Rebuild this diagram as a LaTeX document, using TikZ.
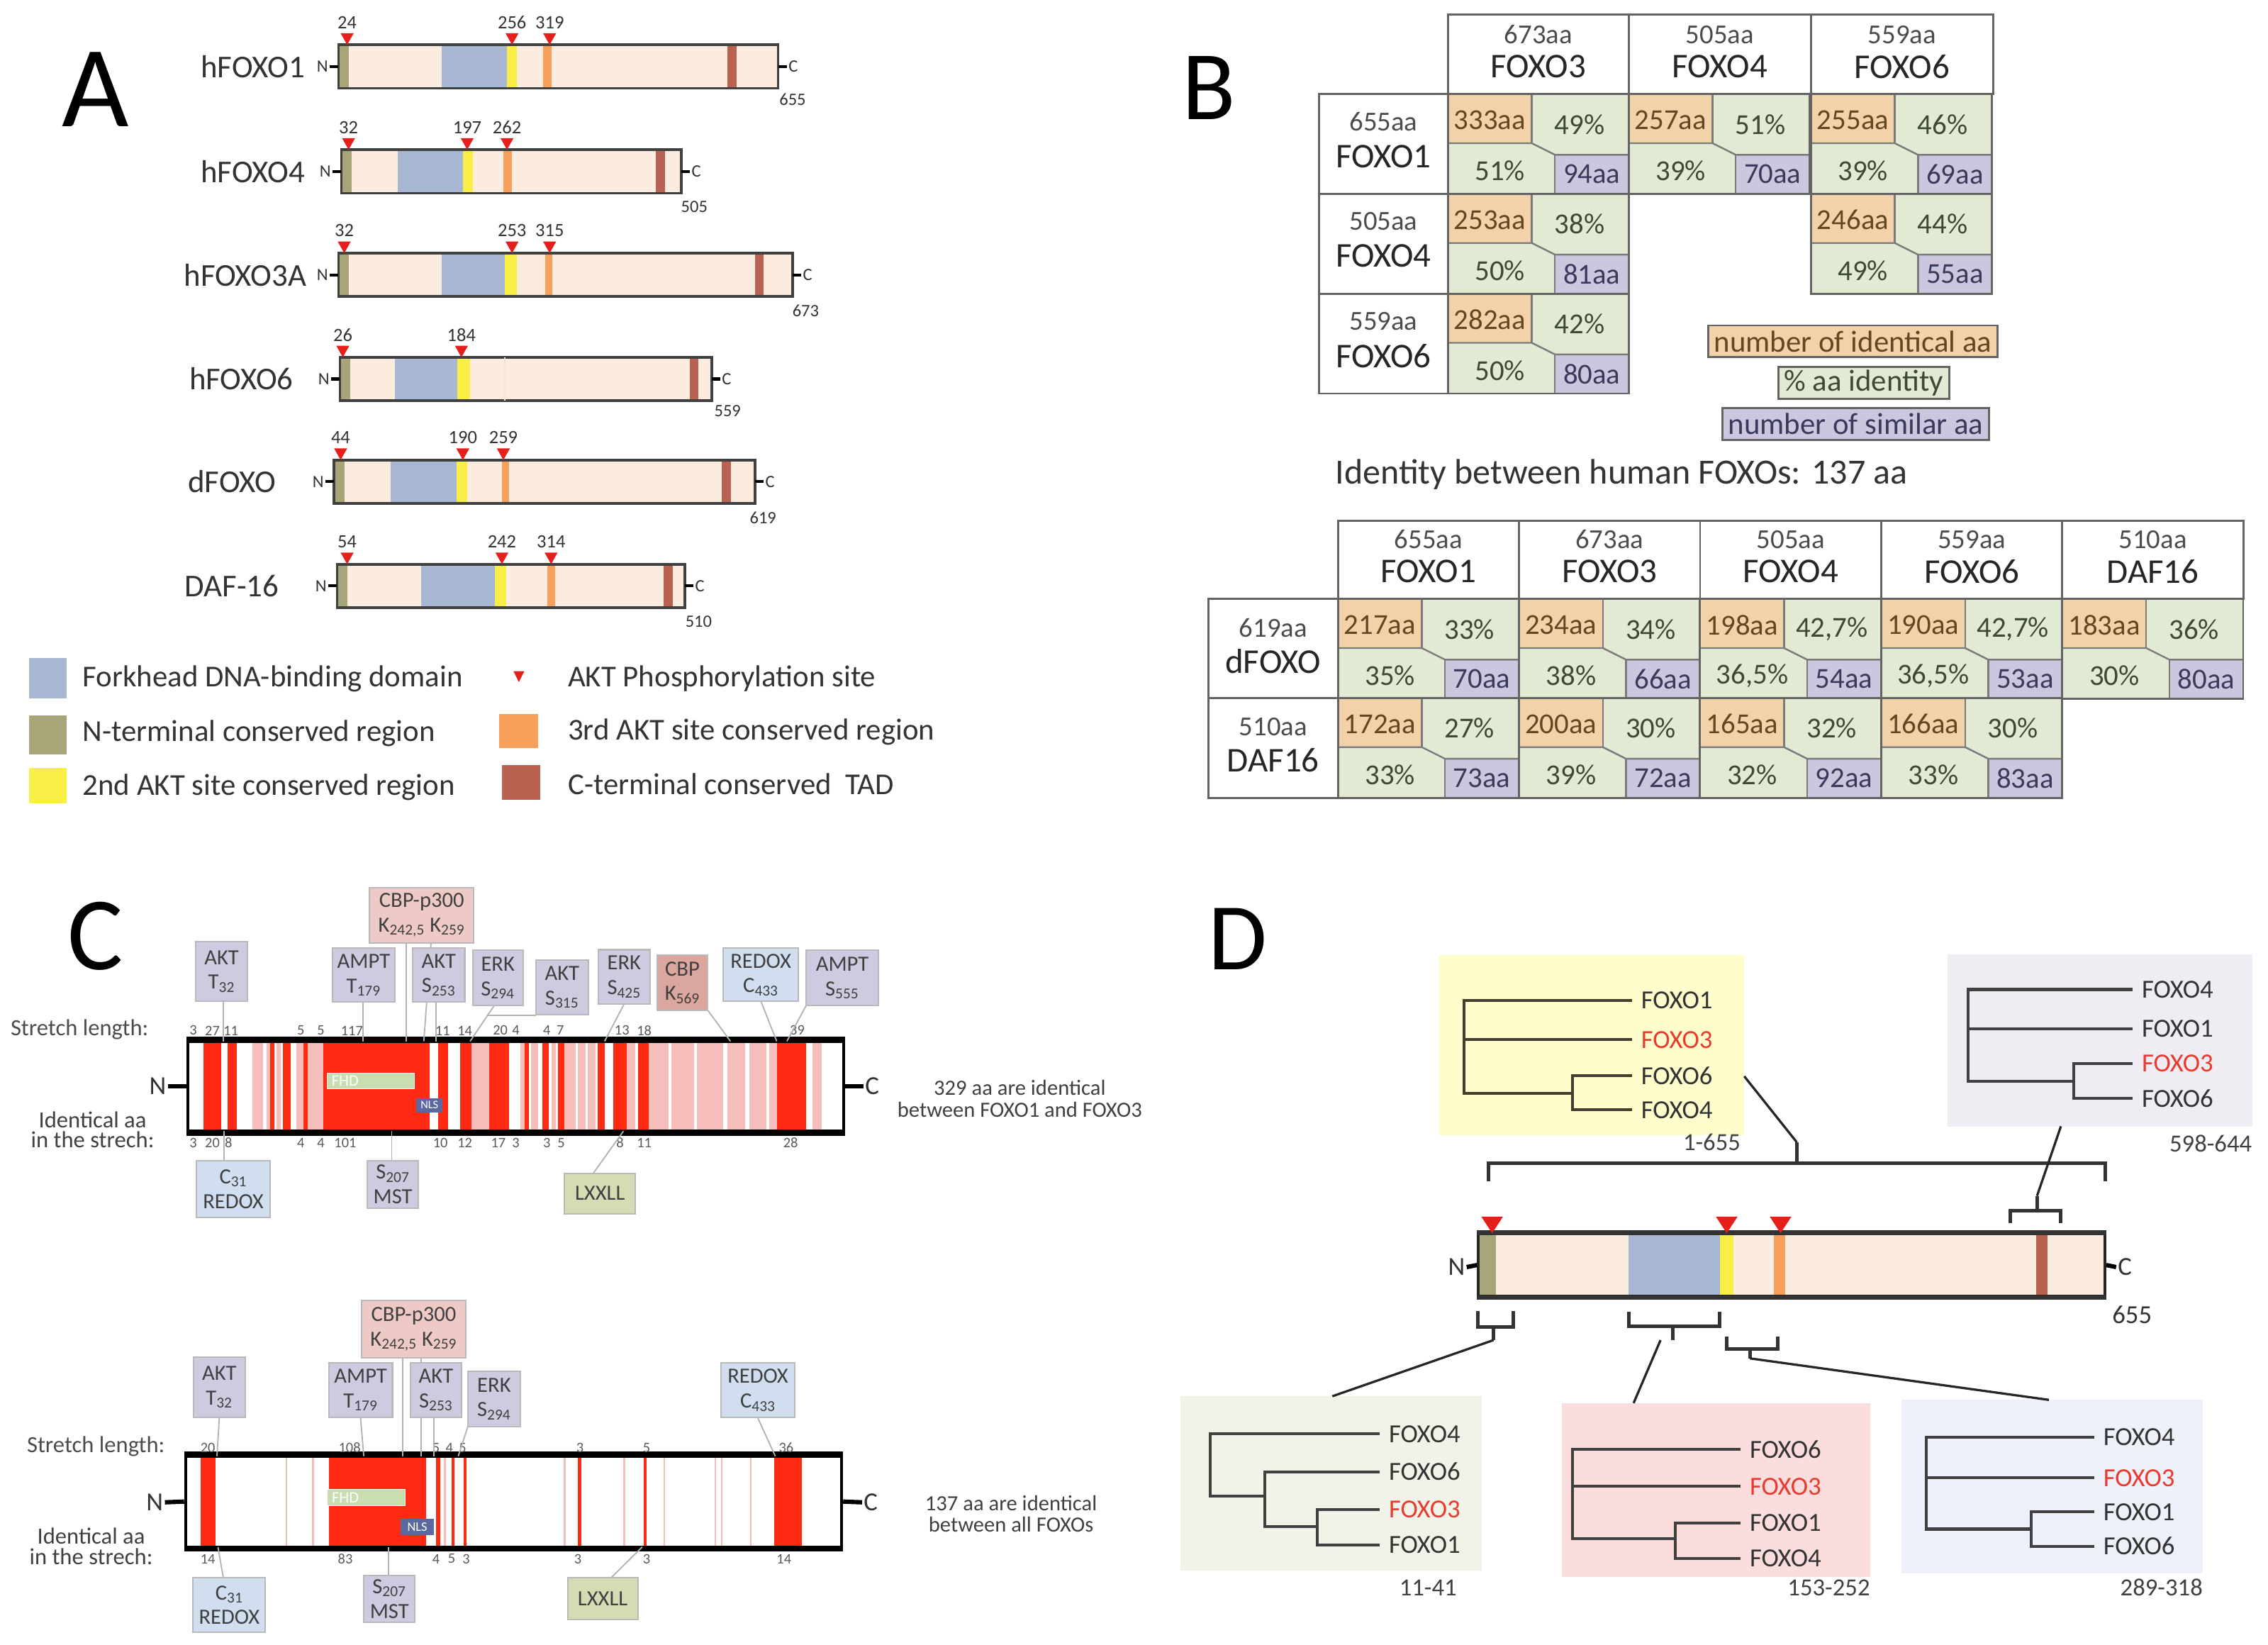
\documentclass[tikz,border=0pt]{standalone}
\usepackage{fontspec}
\setmainfont{Carlito}
\usetikzlibrary{positioning}

\newcommand{\fsz}[1]{\fontsize{#1}{#1}\selectfont}

\definecolor{barfill}{RGB}{252,236,224}
\definecolor{fhblue}{RGB}{168,184,212}
\definecolor{ntolive}{RGB}{168,166,120}
\definecolor{aktyel}{RGB}{248,238,70}
\definecolor{aktorg}{RGB}{247,160,92}
\definecolor{tadbrn}{RGB}{186,98,82}
\definecolor{sitered}{RGB}{230,30,28}
\definecolor{txt}{RGB}{51,51,51}
\definecolor{idorg}{RGB}{243,210,170}
\definecolor{idgrn}{RGB}{226,234,212}
\definecolor{idpur}{RGB}{204,199,222}
\definecolor{idorgt}{RGB}{100,70,35}
\definecolor{idgrnt}{RGB}{60,74,52}
\definecolor{idpurt}{RGB}{58,58,92}
\definecolor{gridgray}{RGB}{100,100,100}
\definecolor{consred}{RGB}{255,42,18}
\definecolor{conspink}{RGB}{245,190,186}
\definecolor{kinlav}{RGB}{206,203,224}
\definecolor{cbppink}{RGB}{238,202,198}
\definecolor{cbpdark}{RGB}{218,166,158}
\definecolor{redoxblue}{RGB}{208,222,240}
\definecolor{lxgreen}{RGB}{212,220,180}
\definecolor{fhdgreen}{RGB}{200,222,176}
\definecolor{nlsblue}{RGB}{92,104,160}
\definecolor{treeyel}{RGB}{255,253,204}
\definecolor{treepur}{RGB}{240,236,243}
\definecolor{treegrn}{RGB}{242,243,232}
\definecolor{treepnk}{RGB}{251,221,221}
\definecolor{treeblu}{RGB}{238,241,250}
\definecolor{foxred}{RGB}{232,60,48}

% one cell of the identity tables: x, y, identical, pct, pct, similar, name
\newcommand{\idcell}[7]{%
  \fill[idgrn] (#1,#2) rectangle ++(125,69);
  \fill[idorg] (#1,#2) rectangle ++(58,34);
  \fill[idpur] (#1+74,#2+42) rectangle ++(51,27);
  \draw[cellline] (#1,#2+34) -- ++(58,0) -- ++(16,8) -- ++(51,0);
  \draw[cellline] (#1+58,#2) -- ++(0,34);
  \draw[cellline] (#1+74,#2+42) -- ++(0,27);
  \draw[gridline] (#1,#2) rectangle ++(125,69);
  \node[idn, text=idorgt] (#7-i) at (#1+29,#2+18) {#3};
  \node[idn, text=idgrnt] (#7-p) at (#1+91,#2+21) {#4};
  \node[idn, text=idgrnt] (#7-q) at (#1+36,#2+53) {#5};
  \node[idn, text=idpurt] (#7-s) at (#1+99.5,#2+55.5) {#6};
}

\begin{document}
\begin{tikzpicture}[x=1pt, y=-1pt,
  panel/.style={font=\fsz{70}, text=black, inner sep=0},
  protname/.style={font=\fsz{22}, text=txt, inner sep=1, anchor=east},
  endlab/.style={font=\fsz{12}, text=txt, inner sep=1},
  sitenum/.style={font=\fsz{13}, text=txt, inner sep=0},
  legtxt/.style={font=\fsz{21}, text=txt, anchor=west, inner sep=0},
  barline/.style={draw=black!75, line width=1.8},
  gridline/.style={draw=gridgray, line width=1.4},
  cellline/.style={draw=gridgray!85, line width=1.2},
  idn/.style={font=\fsz{20}, inner sep=0},
  hlen/.style={font=\fsz{19}, text=black!70, inner sep=0},
  hnm/.style={font=\fsz{24}, text=black!85, inner sep=0},
  leg/.style={draw=gridgray, line width=1.4, font=\fsz{21}, inner xsep=4, inner ysep=0, minimum height=22},
  consbar/.style={draw=black, line width=2.2, inner sep=0},
  termlab/.style={font=\fsz{18}, text=txt, inner sep=1, anchor=east},
  strn/.style={font=\fsz{10}, text=black!65, inner sep=0},
  sitebox/.style={draw=gray!55, line width=1, fill=kinlav, align=center, inner sep=0,
    font={\fontsize{15}{17}\selectfont}, text=black!75},
  sz/.style 2 args={minimum width=#1, minimum height=#2},
  leadline/.style={draw=gray!60, line width=0.9},
  sidetxt/.style={align=center, inner sep=0, text=black!75},
  leaf/.style={font=\fsz{18}, text=black!80, anchor=west, inner xsep=6, inner ysep=1},
  leafred/.style={leaf, text=foxred},
  branch/.style={draw=black!75, line width=2},
  rng/.style={font=\fsz{17}, text=black!75, anchor=east, inner sep=0},
  brk/.style={draw=black!80, line width=2.4},
  zoomline/.style={draw=black!85, line width=1.6}]
\useasboundingbox (0,0) rectangle (1568,1137);

% ---------------- A: domain maps
\node[panel, font=\fsz{80}] (pA) at (66,62) {A};
\foreach \yy/\xa/\xb/\bla/\blb/\ylb/\ora/\orb/\taa/\tab in {
    46/234/538/305.5/350.5/357.5/375.5/381.5/503/509.5,
    118.5/236/471/275/320/327/348/354/453.5/460,
    190/234/548/305.5/349/357.5/377/382/522/528,
    262/235/492/273/316/325/349/349/477/483,
    333/231/522/270/315.7/323/347/352/499/505.5,
    405/233/473.5/291/342/350/378.5/384/459/465}{
  \fill[barfill] (\xa,\yy-15) rectangle (\xb,\yy+15);
  \fill[ntolive] (\xa,\yy-15) rectangle (\xa+7,\yy+15);
  \fill[fhblue] (\bla,\yy-15) rectangle (\blb,\yy+15);
  \fill[aktyel] (\blb,\yy-15) rectangle (\ylb,\yy+15);
  \fill[aktorg] (\ora,\yy-15) rectangle (\orb,\yy+15);
  \fill[tadbrn] (\taa,\yy-15) rectangle (\tab,\yy+15);
  \draw[barline] (\xa,\yy-15) rectangle (\xb,\yy+15);
}
\draw[aktorg!30, line width=1] (349,247) -- (349,277);
\foreach \p/\yy/\lx/\nm/\xa/\xb/\len/\lnx/\lny in {
    a1/46/212/hFOXO1/234/538/655/548/69,
    a2/118.5/212/hFOXO4/236/471/505/480/143,
    a3/190/213/hFOXO3A/234/548/673/557/215,
    a4/262/204/hFOXO6/235/492/559/503/284,
    a5/333/192/dFOXO/231/522/619/527.5/358,
    a6/405/194/DAF-16/233/473.5/510/483/429.5}{
  \node[protname] (\p) at (\lx,\yy) {\nm};
  \node[endlab, anchor=east] (\p-n) at (\xa-6,\yy) {N};
  \node[endlab, anchor=west] (\p-c) at (\xb+6,\yy) {C};
  \node[endlab] (\p-len) at (\lnx,\lny) {\len};
  \draw[line width=2] (\p-n.east) -- (\xa,\yy);
  \draw[line width=2] (\xb,\yy) -- (\p-c.west);
}
% AKT sites
\foreach \xs/\yt/\num [count=\k] in {240/31/24, 354/31/256, 380/31/319,
    241/103.5/32, 323/103.5/197, 350.5/103.5/262,
    238/175/32, 354/175/253, 380/175/315,
    237/247/26, 319/247/184,
    235.5/318/44, 320/318/190, 348/318/259,
    240/390/54, 347/390/242, 381/390/314}{
  \fill[sitered] (\xs-4.5,\yt-8) -- (\xs+4.5,\yt-8) -- (\xs,\yt) -- cycle;
  \node[sitenum] (st\k) at (\xs,\yt-15.5) {\num};
}
% legend
\fill[fhblue] (20,455) rectangle (46,483);
\fill[ntolive] (20,494.5) rectangle (46,521.5);
\fill[aktyel] (20,531) rectangle (46,555.5);
\fill[aktorg] (345,493.5) rectangle (372,517);
\fill[tadbrn] (347,529) rectangle (373.5,553);
\fill[sitered] (355,464) -- (362.5,464) -- (358.7,471.5) -- cycle;
\node[legtxt] (lg1) at (57,469) {Forkhead DNA-binding domain};
\node[legtxt] (lg2) at (57,507) {N-terminal conserved region};
\node[legtxt] (lg3) at (57,544) {2nd AKT site conserved region};
\node[legtxt] (lg4) at (392.5,469) {AKT Phosphorylation site};
\node[legtxt] (lg5) at (392.5,506) {3rd AKT site conserved region};
\node[legtxt] (lg6) at (392.5,542) {C-terminal conserved\ \ TAD};

% ---------------- B: identity tables
\node[panel, font=\fsz{68}] (pB) at (836,61) {B};
\draw[gridline] (1001,10) rectangle (1378,65);
\draw[gridline] (1126,10) -- (1126,65);
\draw[gridline] (1252,10) -- (1252,65);
\draw[gridline] (912,65) rectangle (1001,272);
\draw[gridline] (912,134) -- (1001,134);
\draw[gridline] (912,203) -- (1001,203);
\foreach \xc/\len/\nm [count=\k] in {1063.5/673aa/FOXO3, 1189/505aa/FOXO4, 1315/559aa/FOXO6}{
  \node[hlen] (bh\k) at (\xc,24) {\len};
  \node[hnm] (bn\k) at (\xc,46) {\nm};
}
\foreach \yr/\len/\nm [count=\k] in {65/655aa/FOXO1, 134/505aa/FOXO4, 203/559aa/FOXO6}{
  \node[hlen] (br\k) at (956.5,\yr+19) {\len};
  \node[hnm] (bm\k) at (956.5,\yr+43) {\nm};
}
\idcell{1001}{65}{333aa}{49\%}{51\%}{94aa}{b11}
\idcell{1126}{65}{257aa}{51\%}{39\%}{70aa}{b12}
\idcell{1252}{65}{255aa}{46\%}{39\%}{69aa}{b13}
\idcell{1001}{134}{253aa}{38\%}{50\%}{81aa}{b21}
\idcell{1252}{134}{246aa}{44\%}{49\%}{55aa}{b23}
\idcell{1001}{203}{282aa}{42\%}{50\%}{80aa}{b31}
\node[leg, fill=idorg, text=idorgt] (lgi) at (1281,236) {number of identical aa};
\node[leg, fill=idgrn, text=idgrnt] (lgp) at (1288.5,264.5) {\% aa identity};
\node[leg, fill=idpur, text=idpurt] (lgs) at (1283,293) {number of similar aa};

\node[font=\fsz{24.5}, text=txt, inner sep=0] (btitle) at (1121,328) {Identity between human FOXOs: 137 aa};
\draw[gridline] (925,360) rectangle (1551,414);
\foreach \xs in {1050.2,1175.4,1300.6,1425.8} \draw[gridline] (\xs,360) -- (\xs,414);
\draw[gridline] (835.4,414) rectangle (925,551.5);
\draw[gridline] (835.4,482.5) -- (925,482.5);
\foreach \xc/\len/\nm [count=\k] in {987.6/655aa/FOXO1, 1112.8/673aa/FOXO3, 1238/505aa/FOXO4,
    1363.2/559aa/FOXO6, 1488.4/510aa/DAF16}{
  \node[hlen] (dh\k) at (\xc,373) {\len};
  \node[hnm] (dn\k) at (\xc,395) {\nm};
}
\foreach \yr/\len/\nm [count=\k] in {414/619aa/dFOXO, 482.5/510aa/DAF16}{
  \node[hlen] (dr\k) at (880.2,\yr+20) {\len};
  \node[hnm] (dm\k) at (880.2,\yr+43) {\nm};
}
\idcell{925}{414}{217aa}{33\%}{35\%}{70aa}{e11}
\idcell{1050.2}{414}{234aa}{34\%}{38\%}{66aa}{e12}
\idcell{1175.4}{414}{198aa}{42,7\%}{36,5\%}{54aa}{e13}
\idcell{1300.6}{414}{190aa}{42,7\%}{36,5\%}{53aa}{e14}
\idcell{1425.8}{414}{183aa}{36\%}{30\%}{80aa}{e15}
\idcell{925}{482.5}{172aa}{27\%}{33\%}{73aa}{e21}
\idcell{1050.2}{482.5}{200aa}{30\%}{39\%}{72aa}{e22}
\idcell{1175.4}{482.5}{165aa}{32\%}{32\%}{92aa}{e23}
\idcell{1300.6}{482.5}{166aa}{30\%}{33\%}{83aa}{e24}

% ---------------- C: conserved stretches, FOXO1 vs FOXO3
\node[panel, font=\fsz{72}] (pC) at (66,647) {C};
\foreach \a/\b in {174.3/182, 184.4/186.6, 191.2/194.2, 205/209.6, 212.6/223.3, 326/338.2,
    359.7/362.7, 367.3/372, 381.1/384.2, 390.3/398, 399.5/405, 406.5/411.8, 433.2/439.3,
    448.5/462, 464/480, 482/500, 503/515, 518/530, 532/537.4, 561.9/568}
  \fill[conspink] (\a,719.8) rectangle (\b,781.9);
\foreach \a/\b in {140.6/152.9, 157.5/163.6, 186.6/189.6, 195.8/201, 209.6/212.6, 223.3/296.9,
    303/310, 318.3/326, 338.2/352, 362.7/365.8, 375/379.6, 385.7/390.3, 413.3/418, 424/433.2,
    440.9/448.5, 537.4/557.3}
  \fill[consred] (\a,719.8) rectangle (\b,781.9);
\node[consbar, minimum width=453.3, minimum height=62.1] (c1bar) at (356.65,750.85) {};
\draw[line width=4] (c1bar.north west) -- (c1bar.north east);
\draw[line width=4] (c1bar.south west) -- (c1bar.south east);
\node[draw=white, fill=fhdgreen, text=white, font=\fsz{11}, text width=54, align=left,
  inner xsep=3, inner ysep=0, minimum height=10.7] (c1fhd) at (256.3,747.2) {FHD};
\node[fill=nlsblue, text=white, font=\fsz{8}, inner sep=0, minimum width=18.3,
  minimum height=9.8] (c1nls) at (296.9,763.9) {NLS};
\node[termlab] (c1n) at (116,750.85) {N};
\node[termlab, anchor=west] (c1c) at (597,750.85) {C};
\draw[line width=3] (c1n.east) -- (c1bar.west);
\draw[line width=3] (c1bar.east) -- (c1c.west);
\node[font=\fsz{16}, text=black!70, inner sep=0] (c1sl) at (55,711.8) {Stretch length:};
\node[sidetxt, font={\fontsize{16}{14}\selectfont}] (c1id) at (64,781) {Identical aa\\in the strech:};
\node[sidetxt, font={\fontsize{15}{15}\selectfont}] (c1tot) at (705,759.5) {329 aa are identical\\between FOXO1 and FOXO3};
\foreach \xs/\t [count=\k] in {133.6/3, 146.8/27, 159.6/11, 208/5, 221.8/5, 243.3/117, 306/11,
    321.4/14, 345.9/20, 356.6/4, 378/4, 387.3/7, 430/13, 445.4/18, 551.2/39}
  \node[strn] (c1t\k) at (\xs,712.4) {\t};
\foreach \xs/\t [count=\k] in {133.6/3, 146.8/20, 158/8, 208/4, 221.8/4, 238.7/101, 304.5/10,
    321.4/12, 344.5/17, 356.6/3, 378/3, 388/5, 428.6/8, 445.4/11, 546.6/28}
  \node[strn] (c1b\k) at (\xs,790) {\t};
% leader ends on the bar
\foreach \n/\xs in {c1e1/154.4, c1e2/251, c1e3/281, c1e4/293, c1e5/301.5, c1e6/325,
    c1e8/418, c1e9/505, c1e10/537, c1e11/544}
  \coordinate (\n) at (\xs,719.8);
\coordinate (c1e7) at (337.4,701.8);
\foreach \n/\xs in {c1f1/155, c1f2/270.8, c1f3/431}
  \coordinate (\n) at (\xs,781.9);
\draw[leadline] (c1e1 |- 0,692) -- (c1e1);
\draw[leadline] (c1e2 |- 0,692) -- (c1e2);
\draw[leadline] (c1e3 |- 0,652) -- (c1e3);
\draw[leadline] (298,652) -- (c1e4);
\draw[leadline] (c1e5 |- 0,692) -- (c1e5);
\draw[leadline] (341.6,695.2) -- (c1e6);
\draw[leadline] (370.6,701.8) -- (c1e7);
\draw[leadline] (431.5,694) -- (c1e8);
\draw[leadline] (489.4,698.5) -- (c1e9);
\draw[leadline] (526,692) -- (c1e10);
\draw[leadline] (557.3,695.2) -- (c1e11);
\draw[leadline] (155,802.3) -- (c1f1);
\draw[leadline] (270.8,802.3) -- (c1f2);
\draw[leadline] (410,811.3) -- (c1f3);
% site boxes
\node[sitebox, fill=cbppink, sz={72}{38.5}] (c1cbp) at (291.5,632.7) {CBP-p300\\K\textsubscript{242,5} K\textsubscript{259}};
\node[sitebox, sz={36}{41}] (c1akt) at (153.2,671.5) {AKT\\T\textsubscript{32}};
\node[sitebox, sz={43}{37}] (c1ampt) at (251.4,674) {AMPT\\T\textsubscript{179}};
\node[sitebox, sz={36}{37}] (c1akt2) at (303.3,674) {AKT\\S\textsubscript{253}};
\node[sitebox, sz={35}{38}] (c1erk) at (344.2,676) {ERK\\S\textsubscript{294}};
\node[sitebox, sz={36}{38}] (c1akt3) at (388.6,682.6) {AKT\\S\textsubscript{315}};
\node[sitebox, sz={36}{37.5}] (c1erk2) at (431.5,675.3) {ERK\\S\textsubscript{425}};
\node[sitebox, fill=cbpdark, sz={35}{38.5}] (c1cbpk) at (471.8,679.3) {CBP\\K\textsubscript{569}};
\node[sitebox, fill=redoxblue, sz={52}{36.5}] (c1redox) at (526,673.8) {REDOX\\C\textsubscript{433}};
\node[sitebox, sz={50}{38}] (c1ampt2) at (582.3,676) {AMPT\\S\textsubscript{555}};
\node[sitebox, fill=redoxblue, sz={50.6}{39}] (c1red31) at (161.3,822) {C\textsubscript{31}\\REDOX};
\node[sitebox, sz={35}{33}] (c1mst) at (271.6,818.7) {S\textsubscript{207}\\MST};
\node[sitebox, fill=lxgreen, sz={49}{28}] (c1lx) at (414.8,825) {LXXLL};

% ---------------- C: conserved stretches, all FOXOs
\foreach \a in {198, 216.3, 307.6, 390.3, 431.7, 459.3, 494.5, 499, 519}
  \draw[conspink, line width=1.3] (\a,1006.6) -- (\a,1069.4);
\foreach \a/\b in {138.5/148.9, 227.3/294.7, 301.5/304.5, 312.2/314.3, 320.5/322.3,
    399.5/401.7, 444.9/447, 535/554.2}
  \fill[consred] (\a,1006.6) rectangle (\b,1069.4);
\node[consbar, minimum width=453.4, minimum height=62.8] (c2bar) at (355.1,1038) {};
\draw[line width=4] (c2bar.north west) -- (c2bar.north east);
\draw[line width=4] (c2bar.south west) -- (c2bar.south east);
\node[draw=white, fill=fhdgreen, text=white, font=\fsz{11}, text width=47.6, align=left,
  inner xsep=3, inner ysep=0, minimum height=11.4] (c2fhd) at (253.2,1035.1) {FHD};
\node[fill=nlsblue, text=white, font=\fsz{9}, inner sep=0, minimum width=23,
  minimum height=11.5] (c2nls) at (288.5,1055.5) {NLS};
\node[termlab] (c2n) at (114,1038.5) {N};
\node[termlab, anchor=west] (c2c) at (596,1038.5) {C};
\draw[line width=3] (c2n.east) -- (c2bar.west);
\draw[line width=3] (c2bar.east) -- (c2c.west);
\node[font=\fsz{16}, text=black!70, inner sep=0] (c2sl) at (66.3,999.7) {Stretch length:};
\node[sidetxt, font={\fontsize{16}{14}\selectfont}] (c2id) at (63,1068.8) {Identical aa\\in the strech:};
\node[sidetxt, font={\fontsize{15}{15}\selectfont}] (c2tot) at (699,1046.5) {137 aa are identical\\between all FOXOs};
\foreach \xs/\t [count=\k] in {143.7/20, 241.7/108, 301.5/5, 310.7/4, 319.9/5, 401/3, 447/5, 543.5/36}
  \node[strn] (c2t\k) at (\xs,1000.9) {\t};
\foreach \xs/\t [count=\k] in {143.7/14, 238.7/83, 301.5/4, 312.2/5, 322.3/3, 399.5/3, 447/3, 542/14}
  \node[strn] (c2b\k) at (\xs,1077.6) {\t};
\foreach \n/\xs in {c2e1/150, c2e2/251.5, c2e3/278.5, c2e4/291, c2e5/300, c2e6/316.8, c2e7/536}
  \coordinate (\n) at (\xs,1006.6);
\foreach \n/\xs in {c2f1/150.7, c2f2/268.7, c2f3/444}
  \coordinate (\n) at (\xs,1069.4);
\draw[leadline] (151.6,980.4) -- (c2e1);
\draw[leadline] (249.3,980.4) -- (c2e2);
\draw[leadline] (c2e3 |- 0,938.8) -- (c2e3);
\draw[leadline] (c2e4 |- 0,938.8) -- (c2e4);
\draw[leadline] (c2e5 |- 0,980.4) -- (c2e5);
\draw[leadline] (323.5,986) -- (c2e6);
\draw[leadline] (524,980.4) -- (c2e7);
\draw[leadline] (154.4,1090.7) -- (c2f1);
\draw[leadline] (268.7,1089) -- (c2f2);
\draw[leadline] (422.5,1090.7) -- (c2f3);
\node[sitebox, fill=cbppink, sz={72}{40}] (c2cbp) at (286,918.7) {CBP-p300\\K\textsubscript{242,5} K\textsubscript{259}};
\node[sitebox, sz={36}{42}] (c2akt) at (151.6,959) {AKT\\T\textsubscript{32}};
\node[sitebox, sz={44}{38}] (c2ampt) at (249.3,961) {AMPT\\T\textsubscript{179}};
\node[sitebox, sz={35.5}{38}] (c2akt2) at (301.4,961) {AKT\\S\textsubscript{253}};
\node[sitebox, sz={36}{38}] (c2erk) at (341.6,967) {ERK\\S\textsubscript{294}};
\node[sitebox, fill=redoxblue, sz={51}{38}] (c2redox) at (524,961) {REDOX\\C\textsubscript{433}};
\node[sitebox, fill=redoxblue, sz={50}{37.6}] (c2red31) at (158.5,1109.5) {C\textsubscript{31}\\REDOX};
\node[sitebox, sz={35.5}{32.7}] (c2mst) at (269.2,1105.3) {S\textsubscript{207}\\MST};
\node[sitebox, fill=lxgreen, sz={48.4}{28.6}] (c2lx) at (416.7,1105) {LXXLL};

% ---------------- D: phylogenies of FOXO regions
\node[panel, font=\fsz{66}] (pD) at (856,649) {D};
\node[fill=treeyel, minimum width=210.7, minimum height=124.1, inner sep=0] (dyel) at (1100.55,722.45) {};
\node[fill=treepur, minimum width=210.7, minimum height=119, inner sep=0] (dpur) at (1451.65,719.1) {};
\node[fill=treegrn, minimum width=208.3, minimum height=120.5, inner sep=0] (dgrn) at (920.15,1025.45) {};
\node[fill=treepnk, minimum width=213, minimum height=120, inner sep=0] (dpnk) at (1186.5,1029.9) {};
\node[fill=treeblu, minimum width=208.2, minimum height=119.7, inner sep=0] (dblu) at (1418.9,1027.55) {};
% full length
\node[leaf] (ty1) at (1128.4,691.6) {FOXO1};
\node[leafred] (ty2) at (1128.4,718.7) {FOXO3};
\node[leaf] (ty3) at (1128.4,743.6) {FOXO6};
\node[leaf] (ty4) at (1128.4,767.3) {FOXO4};
\coordinate (tyr) at (1012.2,755.8);
\coordinate (tyi) at (1087.2,755.8);
\draw[branch, draw=black!70!olive] (ty1.west) -| (tyr) -- (tyi);
\draw[branch, draw=black!70!olive] (ty2.west) -- (ty2.west -| tyr);
\draw[branch, draw=black!70!olive] (ty3.west) -| (tyi) |- (ty4.west);
\node[rng] (ry) at (1203.5,789.6) {1-655};
% 598-644
\node[leaf] (tu1) at (1474.6,684) {FOXO4};
\node[leaf] (tu2) at (1474.6,711) {FOXO1};
\node[leafred] (tu3) at (1474.6,735.2) {FOXO3};
\node[leaf] (tu4) at (1474.6,759.2) {FOXO6};
\coordinate (tur) at (1360.8,747.7);
\coordinate (tui) at (1433.5,747.7);
\draw[branch] (tu1.west) -| (tur) -- (tui);
\draw[branch] (tu2.west) -- (tu2.west -| tur);
\draw[branch] (tu3.west) -| (tui) |- (tu4.west);
\node[rng] (ru) at (1557,790.4) {598-644};
% 11-41
\node[leaf] (tg1) at (954,991.3) {FOXO4};
\node[leaf] (tg2) at (954,1017.4) {FOXO6};
\node[leafred] (tg3) at (954,1043.5) {FOXO3};
\node[leaf] (tg4) at (954,1068) {FOXO1};
\coordinate (tgr) at (836.9,1034.3);
\coordinate (tgi) at (874.2,1034.3);
\coordinate (tgj) at (874.2,1055.3);
\coordinate (tgk) at (910.5,1055.3);
\draw[branch] (tg1.west) -| (tgr) -- (tgi);
\draw[branch] (tg2.west) -| (tgi) -- (tgj) -- (tgk);
\draw[branch] (tg3.west) -| (tgk) |- (tg4.west);
\node[rng] (rg) at (1007.3,1097.5) {11-41};
% 153-252
\node[leaf] (tp1) at (1203.5,1001.9) {FOXO6};
\node[leafred] (tp2) at (1203.5,1027.5) {FOXO3};
\node[leaf] (tp3) at (1203.5,1052.8) {FOXO1};
\node[leaf] (tp4) at (1203.5,1077.3) {FOXO4};
\coordinate (tpr) at (1087.2,1063.8);
\coordinate (tpi) at (1158.4,1063.8);
\draw[branch] (tp1.west) -| (tpr) -- (tpi);
\draw[branch] (tp2.west) -- (tp2.west -| tpr);
\draw[branch] (tp3.west) -| (tpi) |- (tp4.west);
\node[rng] (rp) at (1293,1097.5) {153-252};
% 289-318
\node[leaf] (tb1) at (1448,993.5) {FOXO4};
\node[leafred] (tb2) at (1448,1021.6) {FOXO3};
\node[leaf] (tb3) at (1448,1045.2) {FOXO1};
\node[leaf] (tb4) at (1448,1068.8) {FOXO6};
\coordinate (tbr) at (1331.8,1057);
\coordinate (tbi) at (1404.4,1057);
\draw[branch] (tb1.west) -| (tbr) -- (tbi);
\draw[branch] (tb2.west) -- (tb2.west -| tbr);
\draw[branch] (tb3.west) -| (tbi) |- (tb4.west);
\node[rng] (rb) at (1523,1097.5) {289-318};
% FOXO3 map
\fill[barfill] (1022,853) rectangle (1455.3,896);
\fill[ntolive] (1022,853) rectangle (1034,896);
\fill[fhblue] (1126,853) rectangle (1188.9,896);
\fill[aktyel] (1188.9,853) rectangle (1198.6,896);
\fill[aktorg] (1226.2,853) rectangle (1234,896);
\fill[tadbrn] (1407.8,853) rectangle (1415.6,896);
\node[draw=black!85, line width=1.8, inner sep=0, minimum width=433.3, minimum height=43] (dbar) at (1238.65,874.5) {};
\draw[line width=3.2, black!80] (dbar.north west) -- (dbar.north east);
\draw[line width=3.2, black!80] (dbar.south west) -- (dbar.south east);
\foreach \xs in {1031.6,1193.8,1231}
  \fill[sitered] (\xs-7.5,841) -- (\xs+7.5,841) -- (\xs,852.5) -- cycle;
\node[termlab] (dn) at (1014,875.9) {N};
\node[termlab, anchor=west] (dc) at (1463,875.9) {C};
\draw[line width=3] (dn.east) -- (dbar.west);
\draw[line width=3] (dbar.east) -- (dc.west);
\node[font=\fsz{18}, text=txt, inner sep=0] (dlen) at (1474,908.7) {655};
% brackets
\draw[brk] (1029,816.6) -- (1029,803.9) -- (1455.3,803.9) -- (1455.3,816.6);
\draw[brk] (1242.2,803.9) -- (1242.2,789.6);
\draw[brk] (1389.9,845.3) -- (1389.9,836.8) -- (1424.8,836.8) -- (1424.8,845.3);
\draw[brk] (1408.3,836.8) -- (1408.3,826.7);
\draw[brk] (1021.9,906.2) -- (1021.9,917.2) -- (1046,917.2) -- (1046,906.2);
\draw[brk] (1032.5,917.2) -- (1032.5,926.4);
\draw[brk] (1126,907) -- (1126,916.7) -- (1189,916.7) -- (1189,907);
\draw[brk] (1156.5,916.7) -- (1156.5,926.4);
\draw[brk] (1193.8,923.9) -- (1193.8,932.3) -- (1229,932.3) -- (1229,923.9);
\draw[brk] (1209.8,932.3) -- (1209.8,939);
% zoom lines to the trees
\coordinate (dz1) at (1242.2,789.6);   \coordinate (dy1) at (1205.9,744);
\coordinate (dz2) at (1408.3,826.7);   \coordinate (du1) at (1424.8,778.6);
\coordinate (dz3) at (1032.5,926.4);   \coordinate (dg1) at (921.1,965.2);
\coordinate (dz4) at (1148,926.4);     \coordinate (dp1) at (1129.4,969.9);
\coordinate (dz5) at (1209.8,939);     \coordinate (db1) at (1416.5,967.7);
\draw[zoomline] (dz1) -- (dy1);
\draw[zoomline] (dz2) -- (du1);
\draw[zoomline] (dz3) -- (dg1);
\draw[zoomline] (dz4) -- (dp1);
\draw[zoomline] (dz5) -- (db1);
\end{tikzpicture}
\end{document}
